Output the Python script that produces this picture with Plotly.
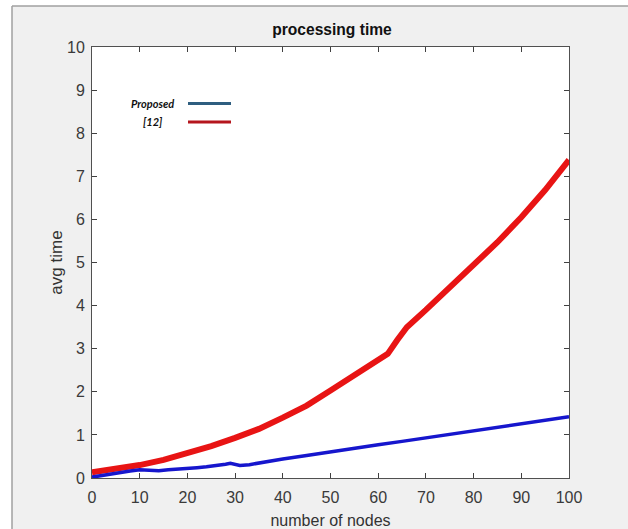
import plotly.graph_objects as go

# ---- data ----
nodes_ref12 = [0, 5, 10, 15, 20, 25, 30, 35, 40, 45, 50, 55, 58, 62, 64, 66, 70, 75, 80, 85, 90, 95, 100]
time_ref12 = [0.13, 0.20, 0.30, 0.42, 0.57, 0.74, 0.93, 1.14, 1.40, 1.68, 2.03, 2.38, 2.60, 2.88, 3.20, 3.50,
              3.90, 4.42, 4.92, 5.47, 6.05, 6.68, 7.38]

nodes_prop = [0, 2, 4, 6, 8, 10, 12, 14, 16, 18, 20, 22, 24, 26, 28, 29, 31, 33, 35, 40, 45, 50, 55, 60, 65,
              70, 75, 80, 84, 90, 95, 100]
time_prop = [0.02, 0.06, 0.10, 0.13, 0.16, 0.19, 0.18, 0.17, 0.19, 0.20, 0.23, 0.24, 0.26, 0.28, 0.32, 0.34,
             0.29, 0.31, 0.35, 0.44, 0.52, 0.61, 0.69, 0.77, 0.85, 0.93, 1.01, 1.09, 1.17, 1.26, 1.34, 1.42]

x_ticks = [0, 10, 20, 30, 40, 50, 60, 70, 80, 90, 100]
y_ticks = [0, 1, 2, 3, 4, 5, 6, 7, 8, 9, 10]

title_text = "processing time"
x_title = "number of nodes"
y_title = "avg time"
legend_names = ["Proposed", "[12]"]

# ---- figure ----
W, H = 628, 529
L, R, T, B = 92, 59, 47, 51
pw, ph = W - L - R, H - T - B


def px2x(px):
    return (px - L) / pw


def py2y(py):
    return (H - B - py) / ph


tick_font = dict(family="Liberation Sans, Arial", size=16, color="#3a3a3a")

fig = go.Figure()
fig.add_trace(go.Scatter(x=nodes_ref12, y=time_ref12, mode="lines", name=legend_names[1],
                         line=dict(color="rgb(232,20,20)", width=6)))
fig.add_trace(go.Scatter(x=nodes_prop, y=time_prop, mode="lines", name=legend_names[0],
                         line=dict(color="rgb(22,22,205)", width=3.5)))

axis_common = dict(showline=True, linecolor="#505050", linewidth=1, mirror="ticks", ticks="inside",
                   ticklen=5, tickcolor="#404040", showgrid=False, zeroline=False, tickfont=tick_font)

fig.update_xaxes(range=[0, 100], tickvals=x_ticks, ticktext=[str(v) for v in x_ticks],
                 title=dict(text=x_title, font=dict(family="Liberation Sans, Arial", size=16, color="#333"),
                            standoff=12),
                 ticklabelstandoff=5, **axis_common)
fig.update_yaxes(range=[0, 10], tickvals=y_ticks, ticktext=[str(v) for v in y_ticks],
                 title=dict(text=y_title, font=dict(family="Liberation Sans, Arial", size=17, color="#333"),
                            standoff=0),
                 ticklabelstandoff=3, **axis_common)

shapes = [
    # white outer strips and the grey frame lines of the picture
    dict(type="rect", xref="paper", yref="paper", x0=px2x(-5), x1=px2x(12), y0=py2y(H + 5), y1=py2y(-5),
         fillcolor="white", line=dict(width=0), layer="above"),
    dict(type="rect", xref="paper", yref="paper", x0=px2x(-5), x1=px2x(W + 5), y0=py2y(6), y1=py2y(-5),
         fillcolor="white", line=dict(width=0), layer="above"),
    dict(type="line", xref="paper", yref="paper", x0=px2x(12), x1=px2x(12), y0=py2y(H + 5), y1=py2y(6),
         line=dict(color="#a0a0a0", width=1.5)),
    dict(type="line", xref="paper", yref="paper", x0=px2x(12), x1=px2x(W + 5), y0=py2y(6), y1=py2y(6),
         line=dict(color="#a0a0a0", width=1.5)),
    # legend swatches
    dict(type="line", xref="paper", yref="paper", x0=px2x(188), x1=px2x(231), y0=py2y(103.5), y1=py2y(103.5),
         line=dict(color="#2f5e80", width=3)),
    dict(type="line", xref="paper", yref="paper", x0=px2x(188), x1=px2x(231), y0=py2y(122), y1=py2y(122),
         line=dict(color="#b5161d", width=3)),
]

leg_font = dict(family="Lato, Liberation Sans, Arial", size=11, color="#111")
annotations = [
    dict(xref="paper", yref="paper", x=px2x(175.5), y=py2y(103), xanchor="right", yanchor="middle",
         text="<b><i>" + legend_names[0] + "</i></b>", showarrow=False, font=leg_font),
    dict(xref="paper", yref="paper", x=px2x(153), y=py2y(122), xanchor="center", yanchor="middle",
         text="<b><i>" + legend_names[1] + "</i></b>", showarrow=False, font=leg_font),
]

fig.update_layout(
    width=W, height=H,
    margin=dict(l=L, r=R, t=T, b=B, autoexpand=False),
    paper_bgcolor="#f0f0f0", plot_bgcolor="white",
    showlegend=False,
    title=dict(text="<b>" + title_text + "</b>", x=px2x(332), xref="paper", xanchor="center",
               y=1 - 30 / H, yref="container", yanchor="middle",
               font=dict(family="Liberation Sans, Arial", size=15.6, color="#111")),
    shapes=shapes, annotations=annotations,
)

fig.write_html("out.html", config={"displayModeBar": False},
               post_script="document.body.style.margin='0';document.body.style.padding='0';")
